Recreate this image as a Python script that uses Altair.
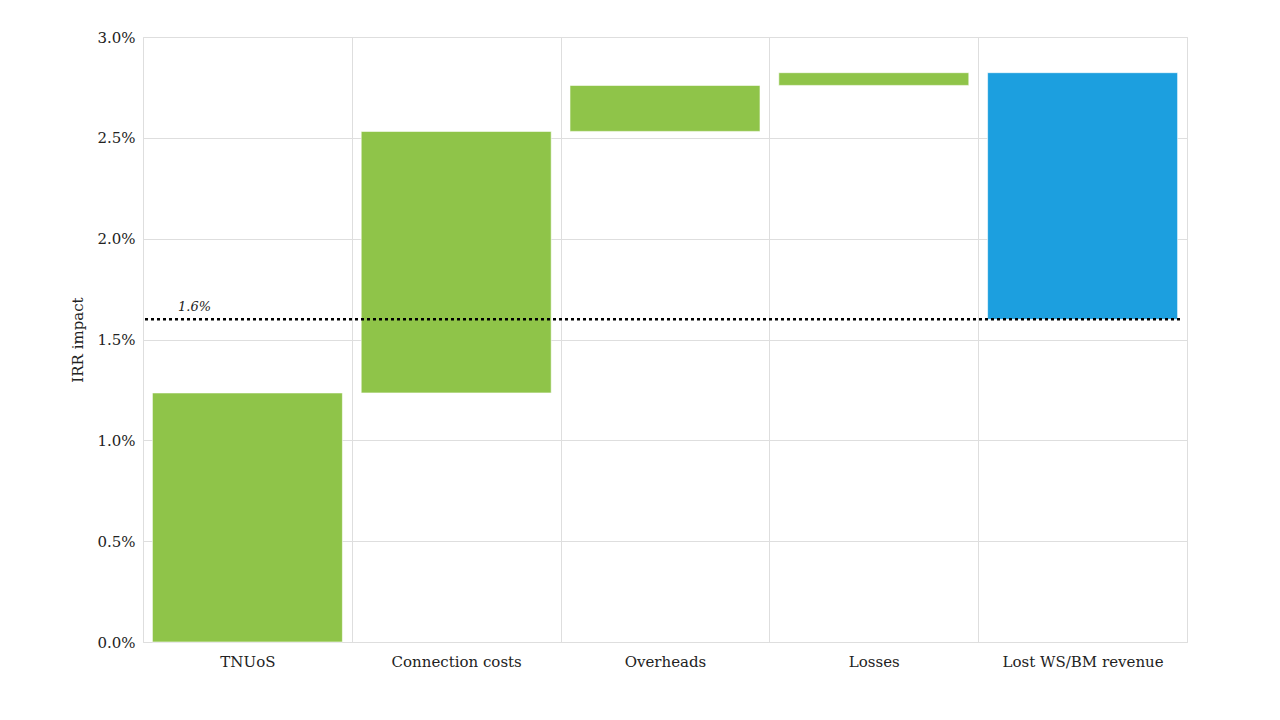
import altair as alt
import pandas as pd

categories = ["TNUoS", "Connection costs", "Overheads", "Losses", "Lost WS/BM revenue"]
bar_start = [0.0, 1.235, 2.532, 2.760, 1.60]
bar_end = [1.235, 2.532, 2.760, 2.823, 2.823]
bar_kind = ["step", "step", "step", "step", "total"]
y_ticks = [0.0, 0.5, 1.0, 1.5, 2.0, 2.5, 3.0]
ref_value = 1.6
ref_label = "1.6%"

FONT = "DejaVu Serif"
GRID = "#dedede"

df = pd.DataFrame({
    "category": categories,
    "start": [v / 100 for v in bar_start],
    "end": [v / 100 for v in bar_end],
    "kind": bar_kind,
})

x_enc = alt.X(
    "category:N",
    sort=categories,
    title=None,
    scale=alt.Scale(paddingInner=0, paddingOuter=0),
    axis=alt.Axis(tickBand="extent", ticks=False, domain=False, labelPadding=12,
                  labelFontSize=15, labelFont=FONT, labelColor="#222", labelAngle=0,
                  grid=True, gridColor=GRID),
)

bars = (
    alt.Chart(df)
    .mark_bar(width=alt.RelativeBandSize(0.91), stroke="white", strokeWidth=0.6)
    .encode(
        x=x_enc,
        y=alt.Y(
            "start:Q",
            title="IRR impact",
            scale=alt.Scale(domain=[0, 0.03], nice=False),
            axis=alt.Axis(format=".1%", values=[round(v / 100, 4) for v in y_ticks],
                          labelOverlap=False, ticks=False, domain=False, labelPadding=8,
                          labelFontSize=15, labelFont=FONT, labelColor="#222", titleFont=FONT,
                          titleFontSize=15, titleFontWeight="normal", titleColor="#222",
                          titlePadding=11, gridColor=GRID),
        ),
        y2="end:Q",
        color=alt.Color("kind:N", scale=alt.Scale(domain=["step", "total"], range=["#8fc449", "#1c9fdf"]), legend=None),
    )
)

ref_df = pd.DataFrame({"y": [ref_value / 100], "label": [ref_label]})

ref_line = (
    alt.Chart(ref_df)
    .mark_rule(color="black", strokeWidth=2.5, strokeDash=[3, 3])
    .encode(y="y:Q", x=alt.value(2), x2=alt.value(1040))
)

ref_text = (
    alt.Chart(ref_df)
    .mark_text(font=FONT, fontSize=13, fontStyle="italic", align="left", baseline="bottom", dy=-5, color="#222")
    .encode(y="y:Q", x=alt.value(35), text="label:N")
)

chart = (
    alt.layer(bars, ref_line, ref_text)
    .properties(width=1044, height=605, autosize="none",
                padding={"left": 135, "top": 29, "right": 85, "bottom": 70})
    .configure_view(stroke=GRID)
    .configure(background="white")
)

chart.save("out.html", embed_options={"renderer": "svg", "actions": False})
